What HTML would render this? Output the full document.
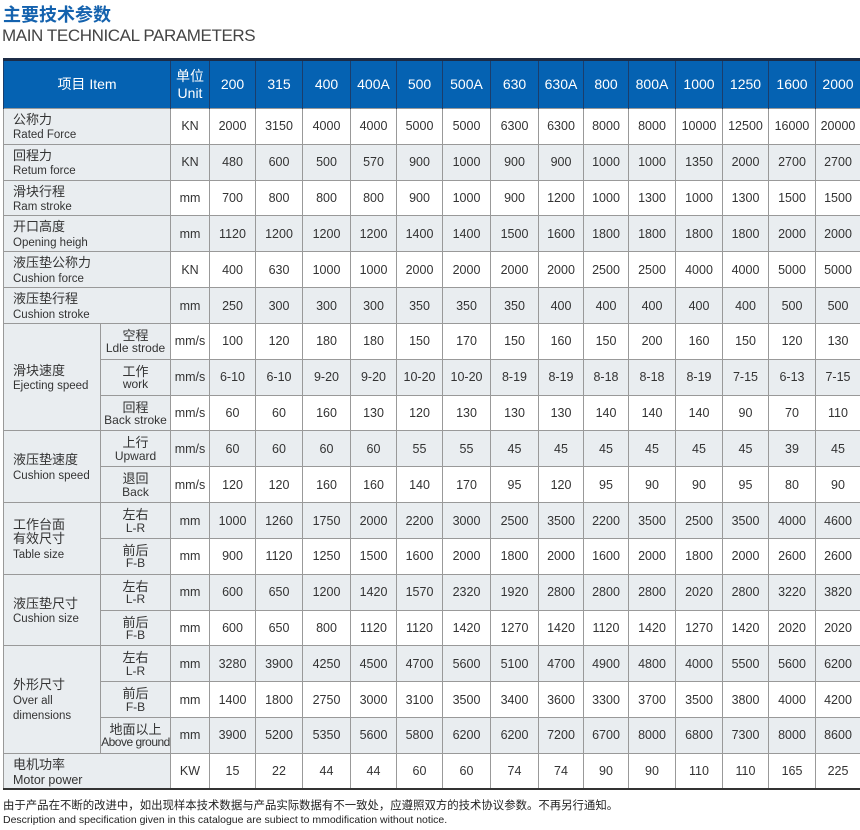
<!DOCTYPE html>
<html><head><meta charset="utf-8">
<style>
*{margin:0;padding:0;box-sizing:border-box}
html,body{width:860px;height:830px;background:#fff;overflow:hidden}
body{font-family:"Liberation Sans","Noto Sans CJK SC",sans-serif;color:#333;position:relative}
.t1{position:absolute;left:3px;top:4px;font-size:18px;font-weight:bold;color:#1462ae;line-height:22px;font-family:"Liberation Sans","Noto Sans CJK SC",sans-serif}
.t2{position:absolute;left:2px;top:26px;font-size:17px;color:#444;letter-spacing:-0.4px;line-height:20px}
table{position:absolute;left:3px;top:58px;width:857px;border-collapse:collapse;table-layout:fixed;border-top:3px solid #1c2b45;border-bottom:2px solid #333}
td,th{text-align:center;vertical-align:middle;font-weight:normal;border:1px solid #999;font-size:12.5px;line-height:14px;overflow:hidden;white-space:nowrap}
th{background:#0562b2;color:#fff;font-size:14px;border-left:1px solid #1b3d6b;border-right:1px solid #1b3d6b;border-top:none;border-bottom:none;height:49px;line-height:17px}
tr.r td{height:35.84px}
tr.g td{background:#e9edf0}
td.l{background:#e9edf0;text-align:left;padding-left:9px;padding-top:3px;font-size:13px;line-height:14.5px}
td.l span{font-size:11.5px}
td.s{background:#e9edf0;font-size:13px;line-height:12.5px;padding-top:2px}
td.s span{font-size:12px}
td.u{font-size:12.5px}
.note{position:absolute;left:3px;top:799px;line-height:14px;color:#222}
.n1{font-size:11.4px;display:block}
.n2{font-size:10.5px;display:block}
</style></head><body>
<div class="t1">主要技术参数</div>
<div class="t2">MAIN TECHNICAL PARAMETERS</div>
<table>
<colgroup>
<col style="width:97px"><col style="width:70px"><col style="width:39px">
<col style="width:46px"><col style="width:47px"><col style="width:48px"><col style="width:46px"><col style="width:46px"><col style="width:48px"><col style="width:48px"><col style="width:45px"><col style="width:45px"><col style="width:47px"><col style="width:47px"><col style="width:46px"><col style="width:47px"><col style="width:45px">
</colgroup>
<tr><th colspan="2">项目 Item</th><th>单位<br>Unit</th><th>200</th><th>315</th><th>400</th><th>400A</th><th>500</th><th>500A</th><th>630</th><th>630A</th><th>800</th><th>800A</th><th>1000</th><th>1250</th><th>1600</th><th>2000</th></tr>
<tr class="r"><td class="l" colspan="2">公称力<br><span>Rated Force</span></td><td class="u">KN</td><td>2000</td><td>3150</td><td>4000</td><td>4000</td><td>5000</td><td>5000</td><td>6300</td><td>6300</td><td>8000</td><td>8000</td><td>10000</td><td>12500</td><td>16000</td><td>20000</td></tr>
<tr class="r g"><td class="l" colspan="2">回程力<br><span>Retum force</span></td><td class="u">KN</td><td>480</td><td>600</td><td>500</td><td>570</td><td>900</td><td>1000</td><td>900</td><td>900</td><td>1000</td><td>1000</td><td>1350</td><td>2000</td><td>2700</td><td>2700</td></tr>
<tr class="r"><td class="l" colspan="2">滑块行程<br><span>Ram stroke</span></td><td class="u">mm</td><td>700</td><td>800</td><td>800</td><td>800</td><td>900</td><td>1000</td><td>900</td><td>1200</td><td>1000</td><td>1300</td><td>1000</td><td>1300</td><td>1500</td><td>1500</td></tr>
<tr class="r g"><td class="l" colspan="2">开口高度<br><span>Opening heigh</span></td><td class="u">mm</td><td>1120</td><td>1200</td><td>1200</td><td>1200</td><td>1400</td><td>1400</td><td>1500</td><td>1600</td><td>1800</td><td>1800</td><td>1800</td><td>1800</td><td>2000</td><td>2000</td></tr>
<tr class="r"><td class="l" colspan="2">液压垫公称力<br><span>Cushion force</span></td><td class="u">KN</td><td>400</td><td>630</td><td>1000</td><td>1000</td><td>2000</td><td>2000</td><td>2000</td><td>2000</td><td>2500</td><td>2500</td><td>4000</td><td>4000</td><td>5000</td><td>5000</td></tr>
<tr class="r g"><td class="l" colspan="2">液压垫行程<br><span>Cushion stroke</span></td><td class="u">mm</td><td>250</td><td>300</td><td>300</td><td>300</td><td>350</td><td>350</td><td>350</td><td>400</td><td>400</td><td>400</td><td>400</td><td>400</td><td>500</td><td>500</td></tr>
<tr class="r"><td class="l" rowspan="3">滑块速度<br><span>Ejecting speed</span></td><td class="s">空程<br><span>Ldle strode</span></td><td class="u">mm/s</td><td>100</td><td>120</td><td>180</td><td>180</td><td>150</td><td>170</td><td>150</td><td>160</td><td>150</td><td>200</td><td>160</td><td>150</td><td>120</td><td>130</td></tr>
<tr class="r g"><td class="s">工作<br><span>work</span></td><td class="u">mm/s</td><td>6-10</td><td>6-10</td><td>9-20</td><td>9-20</td><td>10-20</td><td>10-20</td><td>8-19</td><td>8-19</td><td>8-18</td><td>8-18</td><td>8-19</td><td>7-15</td><td>6-13</td><td>7-15</td></tr>
<tr class="r"><td class="s">回程<br><span>Back stroke</span></td><td class="u">mm/s</td><td>60</td><td>60</td><td>160</td><td>130</td><td>120</td><td>130</td><td>130</td><td>130</td><td>140</td><td>140</td><td>140</td><td>90</td><td>70</td><td>110</td></tr>
<tr class="r g"><td class="l" rowspan="2">液压垫速度<br><span>Cushion speed</span></td><td class="s">上行<br><span>Upward</span></td><td class="u">mm/s</td><td>60</td><td>60</td><td>60</td><td>60</td><td>55</td><td>55</td><td>45</td><td>45</td><td>45</td><td>45</td><td>45</td><td>45</td><td>39</td><td>45</td></tr>
<tr class="r"><td class="s">退回<br><span>Back</span></td><td class="u">mm/s</td><td>120</td><td>120</td><td>160</td><td>160</td><td>140</td><td>170</td><td>95</td><td>120</td><td>95</td><td>90</td><td>90</td><td>95</td><td>80</td><td>90</td></tr>
<tr class="r g"><td class="l" rowspan="2">工作台面<br>有效尺寸<br><span>Table size</span></td><td class="s">左右<br><span>L-R</span></td><td class="u">mm</td><td>1000</td><td>1260</td><td>1750</td><td>2000</td><td>2200</td><td>3000</td><td>2500</td><td>3500</td><td>2200</td><td>3500</td><td>2500</td><td>3500</td><td>4000</td><td>4600</td></tr>
<tr class="r"><td class="s">前后<br><span>F-B</span></td><td class="u">mm</td><td>900</td><td>1120</td><td>1250</td><td>1500</td><td>1600</td><td>2000</td><td>1800</td><td>2000</td><td>1600</td><td>2000</td><td>1800</td><td>2000</td><td>2600</td><td>2600</td></tr>
<tr class="r g"><td class="l" rowspan="2">液压垫尺寸<br><span>Cushion size</span></td><td class="s">左右<br><span>L-R</span></td><td class="u">mm</td><td>600</td><td>650</td><td>1200</td><td>1420</td><td>1570</td><td>2320</td><td>1920</td><td>2800</td><td>2800</td><td>2800</td><td>2020</td><td>2800</td><td>3220</td><td>3820</td></tr>
<tr class="r"><td class="s">前后<br><span>F-B</span></td><td class="u">mm</td><td>600</td><td>650</td><td>800</td><td>1120</td><td>1120</td><td>1420</td><td>1270</td><td>1420</td><td>1120</td><td>1420</td><td>1270</td><td>1420</td><td>2020</td><td>2020</td></tr>
<tr class="r g"><td class="l" rowspan="3">外形尺寸<br><span>Over all<br>dimensions</span></td><td class="s">左右<br><span>L-R</span></td><td class="u">mm</td><td>3280</td><td>3900</td><td>4250</td><td>4500</td><td>4700</td><td>5600</td><td>5100</td><td>4700</td><td>4900</td><td>4800</td><td>4000</td><td>5500</td><td>5600</td><td>6200</td></tr>
<tr class="r"><td class="s">前后<br><span>F-B</span></td><td class="u">mm</td><td>1400</td><td>1800</td><td>2750</td><td>3000</td><td>3100</td><td>3500</td><td>3400</td><td>3600</td><td>3300</td><td>3700</td><td>3500</td><td>3800</td><td>4000</td><td>4200</td></tr>
<tr class="r g"><td class="s">地面以上<br><span style="letter-spacing:-0.5px">Above ground</span></td><td class="u">mm</td><td>3900</td><td>5200</td><td>5350</td><td>5600</td><td>5800</td><td>6200</td><td>6200</td><td>7200</td><td>6700</td><td>8000</td><td>6800</td><td>7300</td><td>8000</td><td>8600</td></tr>
<tr class="r"><td class="l" colspan="2">电机功率<br><span style="font-size:12.5px">Motor power</span></td><td class="u">KW</td><td>15</td><td>22</td><td>44</td><td>44</td><td>60</td><td>60</td><td>74</td><td>74</td><td>90</td><td>90</td><td>110</td><td>110</td><td>165</td><td>225</td></tr>
</table>
<div class="note"><span class="n1">由于产品在不断的改进中，如出现样本技术数据与产品实际数据有不一致处，应遵照双方的技术协议参数。不再另行通知。</span><span class="n2">Description and specification given in this catalogue are subiect to mmodification without notice.</span></div>
</body></html>
